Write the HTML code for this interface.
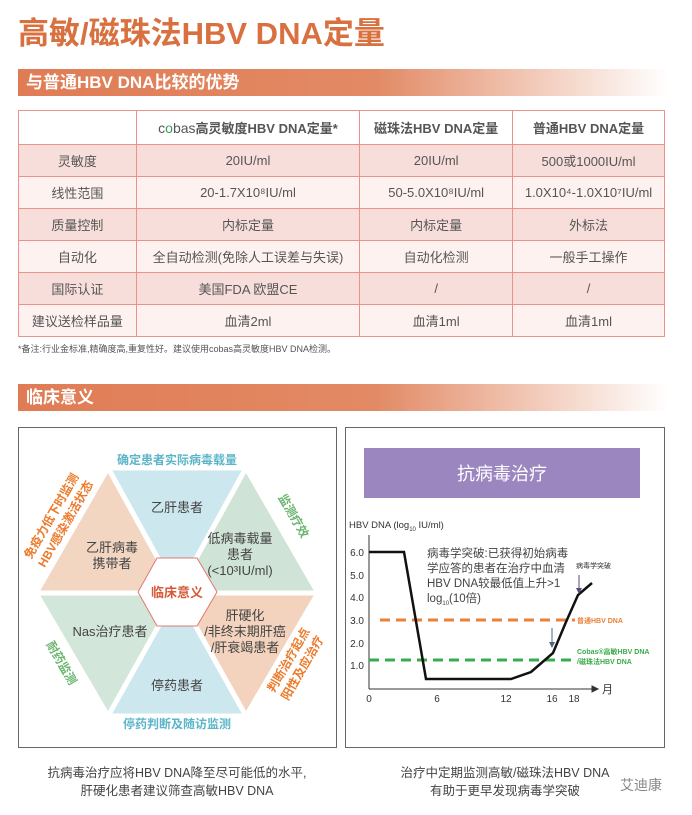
<!DOCTYPE html>
<html><head><meta charset="utf-8">
<style>
*{margin:0;padding:0;box-sizing:border-box}
body{width:692px;height:815px;background:#fff;font-family:"Liberation Sans","Noto Sans CJK SC",sans-serif;position:relative;overflow:hidden;color:#444}
.a{position:absolute}
.title{left:18px;top:8px;font-size:31px;font-weight:bold;color:#d9703f;letter-spacing:0px}
.bar{left:18px;width:650px;height:27px;background:linear-gradient(90deg,#e07c55 0%,#e28a65 55%,#fff 100%);color:#fff;font-weight:bold;font-size:17px;line-height:27px;padding-left:8px}
table{position:absolute;left:18px;top:110px;width:647px;border-collapse:collapse;font-size:13px;color:#555}
td{border:1px solid #e9938a;text-align:center;height:32px;padding:0}
tr.h td{height:34px;font-weight:bold;color:#555;background:#fff}
tr.p td{background:#f8dedb}
tr.w td{background:#fdf2f0}
.box{border:1.3px solid #666;background:#fff}
</style></head><body>
<div class="a title">高敏/磁珠法HBV DNA定量</div>
<div class="a bar" style="top:69px">与普通HBV DNA比较的优势</div>
<table>
<colgroup><col style="width:118px"><col style="width:224px"><col style="width:153px"><col style="width:152px"></colgroup>
<tr class="h"><td></td><td><span style="color:#555;font-weight:normal;font-size:14px">c<span style="color:#3a9a5a">o</span>bas</span>高灵敏度HBV DNA定量*</td><td>磁珠法HBV DNA定量</td><td>普通HBV DNA定量</td></tr>
<tr class="p"><td>灵敏度</td><td>20IU/ml</td><td>20IU/ml</td><td>500或1000IU/ml</td></tr>
<tr class="w"><td>线性范围</td><td>20-1.7X10⁸IU/ml</td><td>50-5.0X10⁸IU/ml</td><td>1.0X10⁴-1.0X10⁷IU/ml</td></tr>
<tr class="p"><td>质量控制</td><td>内标定量</td><td>内标定量</td><td>外标法</td></tr>
<tr class="w"><td>自动化</td><td>全自动检测(免除人工误差与失误)</td><td>自动化检测</td><td>一般手工操作</td></tr>
<tr class="p"><td>国际认证</td><td>美国FDA 欧盟CE</td><td>/</td><td>/</td></tr>
<tr class="w"><td>建议送检样品量</td><td>血清2ml</td><td>血清1ml</td><td>血清1ml</td></tr>
</table>
<div class="a" style="left:18px;top:342px;font-size:9px;color:#555">*备注:行业金标准,精确度高,重复性好。建议使用cobas高灵敏度HBV DNA检测。</div>
<div class="a bar" style="top:384px">临床意义</div>

<div class="a box" style="left:18px;top:427px;width:319px;height:321px"></div>
<div class="a box" style="left:345px;top:427px;width:320px;height:321px"></div>

<svg class="a" style="left:0;top:0" width="692" height="815" font-family="Liberation Sans, Noto Sans CJK SC, sans-serif">
<g stroke="#fff" stroke-width="5" stroke-linejoin="round">
<polygon points="177,593 108,468 246,468" fill="#cde7ee"/>
<polygon points="177,593 246,468 318,593" fill="#cfe3d6"/>
<polygon points="177,593 318,593 246,716" fill="#f3d3bd"/>
<polygon points="177,593 246,716 108,716" fill="#cde7ee"/>
<polygon points="177,593 108,716 36,593" fill="#d3e6da"/>
<polygon points="177,593 36,593 108,468" fill="#f3d6c2"/>
</g>
<polygon points="138,592 157,558 197,558 217,592 197,626 157,626" fill="#fff" stroke="#e07a70" stroke-width="1"/>
<g font-size="13" fill="#444" text-anchor="middle">
<text x="177" y="512">乙肝患者</text>
<text x="112" y="552">乙肝病毒</text><text x="112" y="568">携带者</text>
<text x="240" y="543">低病毒载量</text><text x="240" y="559">患者</text><text x="240" y="575">(&lt;10³IU/ml)</text>
<text x="110" y="636">Nas治疗患者</text>
<text x="245" y="620">肝硬化</text><text x="245" y="636">/非终末期肝癌</text><text x="245" y="652">/肝衰竭患者</text>
<text x="177" y="690">停药患者</text>
<text x="177" y="597" fill="#d65a3a" font-weight="bold">临床意义</text>
<text x="177" y="464" fill="#5bb5c8" font-weight="bold" font-size="12">确定患者实际病毒载量</text>
<text x="177" y="728" fill="#5bb5c8" font-weight="bold" font-size="12">停药判断及随访监测</text>
</g>
<g font-size="12" font-weight="bold" text-anchor="middle">
<text transform="translate(55,518) rotate(-60)" fill="#ec7a2a">免疫力低下时监测</text>
<text transform="translate(69,526) rotate(-60)" fill="#ec7a2a">HBV感染激活状态</text>
<text transform="translate(290,518) rotate(60)" fill="#6ab56e">监测疗效</text>
<text transform="translate(58,665) rotate(60)" fill="#6ab56e">耐药监测</text>
<text transform="translate(292,662) rotate(-60)" fill="#ec7a2a">判断治疗起点</text>
<text transform="translate(306,670) rotate(-60)" fill="#ec7a2a">阳性及应治疗</text>
</g>

<rect x="364" y="448" width="276" height="50" fill="#9b86c0"/>
<text x="502" y="480" fill="#fff" font-size="18" text-anchor="middle">抗病毒治疗</text>
<text x="349" y="528" font-size="9.5" fill="#333">HBV DNA  (log<tspan font-size="6" dy="3">10</tspan><tspan dy="-3"> IU/ml)</tspan></text>
<g stroke="#333" stroke-width="1" fill="none">
<line x1="369" y1="535" x2="369" y2="689"/>
<line x1="369" y1="689" x2="592" y2="689"/>
<polygon points="592,686 598,689 592,692" fill="#333"/>
</g>
<g font-size="10" fill="#333" text-anchor="end">
<text x="364" y="556">6.0</text><text x="364" y="579">5.0</text><text x="364" y="601">4.0</text><text x="364" y="624">3.0</text><text x="364" y="647">2.0</text><text x="364" y="669">1.0</text>
</g>
<g font-size="10" fill="#333" text-anchor="middle">
<text x="369" y="702">0</text><text x="437" y="702">6</text><text x="506" y="702">12</text><text x="552" y="702">16</text><text x="574" y="702">18</text>
</g>
<text x="602" y="693" font-size="11" fill="#333">月</text>
<line x1="380" y1="620" x2="575" y2="620" stroke="#e8813a" stroke-width="3" stroke-dasharray="10,6"/>
<line x1="369" y1="660" x2="575" y2="660" stroke="#3aab4a" stroke-width="3" stroke-dasharray="10,6"/>
<polyline points="369,552 404,552 426,679 511,679 531,672 553,653 566,622 578,595 592,583" fill="none" stroke="#111" stroke-width="2.5"/>
<g font-size="11.5" fill="#444">
<text x="427" y="557">病毒学突破:已获得初始病毒</text>
<text x="427" y="572">学应答的患者在治疗中血清</text>
<text x="427" y="587">HBV DNA较最低值上升&gt;1</text>
<text x="427" y="602">log<tspan font-size="6" dy="3">10</tspan><tspan dy="-3">(10倍)</tspan></text>
</g>
<text x="576" y="568" font-size="7" fill="#333">病毒学突破</text>
<line x1="579" y1="575" x2="579" y2="591" stroke="#5a4a7a"/>
<polygon points="576,588 579,594 582,588" fill="#5a4a7a"/>
<line x1="552" y1="628" x2="552" y2="645" stroke="#4a6a7a"/>
<polygon points="549,642 552,648 555,642" fill="#4a6a7a"/>
<text x="577" y="623" font-size="7" font-weight="bold" fill="#e8813a">普通HBV DNA</text>
<text x="577" y="654" font-size="7" font-weight="bold" fill="#3aab4a">Cobas®高敏HBV DNA</text>
<text x="577" y="664" font-size="7" font-weight="bold" fill="#3aab4a">/磁珠法HBV DNA</text>

<g font-size="12.5" fill="#444" text-anchor="middle">
<text x="177" y="777">抗病毒治疗应将HBV DNA降至尽可能低的水平,</text>
<text x="177" y="795">肝硬化患者建议筛查高敏HBV DNA</text>
<text x="505" y="777">治疗中定期监测高敏/磁珠法HBV DNA</text>
<text x="505" y="795">有助于更早发现病毒学突破</text>
</g>
<text x="620" y="790" font-size="14" fill="#888">艾迪康</text>
</svg>
</body></html>
